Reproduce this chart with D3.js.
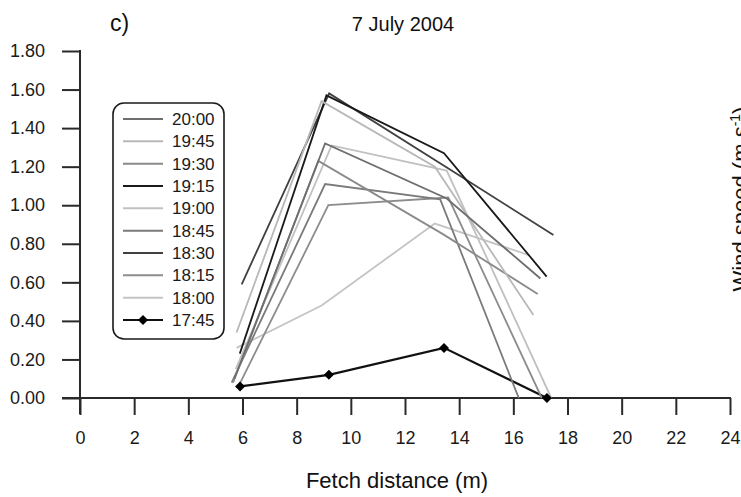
<!DOCTYPE html>
<html><head><meta charset="utf-8">
<script src="https://cdn.jsdelivr.net/npm/d3@7"></script>
<style>
html,body{margin:0;padding:0;background:#fff;}
svg{display:block;font-family:"Liberation Sans",Arial,sans-serif;}
</style></head>
<body><svg id="c" width="741" height="497"></svg>
<script>
// ---- data ----
const times = ["20:00","19:45","19:30","19:15","19:00","18:45","18:30","18:15","18:00","17:45"];
const fetchDistances = [
  [5.70, 9.05, 13.54, 17.00],
  [5.78, 8.92, 13.10, 16.74],
  [5.65, 8.80, 13.40, 16.90],
  [5.90, 9.10, 13.44, 17.23],
  [5.75, 9.29, 13.54, 17.40],
  [5.60, 9.05, 13.30, 16.20],
  [5.97, 9.20, 13.50, 17.48],
  [5.85, 9.17, 13.60, 17.05],
  [5.78, 8.92, 13.10, 16.60],
  [5.91, 9.19, 13.44, 17.24]
];
const windSpeeds = [
  [0.10, 1.32, 1.035, 0.62],
  [0.34, 1.54, 1.20, 0.43],
  [0.08, 1.23, 0.85, 0.54],
  [0.23, 1.57, 1.27, 0.63],
  [0.15, 1.31, 1.18, 0.00],
  [0.08, 1.11, 1.03, 0.00],
  [0.59, 1.58, 1.20, 0.845],
  [0.06, 1.00, 1.04, 0.00],
  [0.26, 0.48, 0.905, 0.74],
  [0.06, 0.12, 0.26, 0.00]
];
const seriesColors = ["#6e6e6e","#b8b8b8","#8a8a8a","#1a1a1a","#c0c0c0","#7a7a7a","#404040","#8c8c8c","#c4c4c4","#111111"];
const xTicks = [0,2,4,6,8,10,12,14,16,18,20,22,24];
const yTicks = [0,0.2,0.4,0.6,0.8,1.0,1.2,1.4,1.6,1.8];
const markerSeries = "17:45";

// ---- layout ----
const svg = d3.select("#c");
const x = d3.scaleLinear().domain([0,24]).range([80,730]);
const y = d3.scaleLinear().domain([0,1.8]).range([398,51]);
const axisColor = "#2a2a2a";

// y axis
const gy = svg.append("g").attr("transform","translate(80,0)")
  .call(d3.axisLeft(y).tickValues(yTicks).tickFormat(d3.format(".2f")).tickSize(18).tickSizeOuter(0).tickPadding(17));
gy.select(".domain").remove();
gy.selectAll(".tick line").attr("stroke",axisColor).attr("stroke-width",2);
gy.selectAll(".tick text").attr("font-size",18).attr("fill","#1a1a1a").attr("font-family","Liberation Sans, Arial, sans-serif");
svg.append("line").attr("x1",x(0)).attr("x2",x(0)).attr("y1",y(1.8)-1).attr("y2",y(0)+16)
  .attr("stroke",axisColor).attr("stroke-width",2);

// x axis
const gx = svg.append("g").attr("transform","translate(0,398)")
  .call(d3.axisBottom(x).tickValues(xTicks).tickFormat(d3.format("d")).tickSize(17).tickSizeOuter(0).tickPadding(16));
gx.select(".domain").remove();
gx.selectAll(".tick line").attr("stroke",axisColor).attr("stroke-width",2);
gx.selectAll(".tick text").attr("font-size",18).attr("fill","#1a1a1a").attr("font-family","Liberation Sans, Arial, sans-serif");
svg.append("line").attr("x1",x(0)-18).attr("x2",x(24)+1).attr("y1",y(0)).attr("y2",y(0))
  .attr("stroke",axisColor).attr("stroke-width",2);

// lines
const line = d3.line().x(d=>x(d[0])).y(d=>y(d[1]));
const series = times.map((t,i)=>({t, color:seriesColors[i], pts:fetchDistances[i].map((fx,j)=>[fx, windSpeeds[i][j]])}));
const drawOrder = series.slice().reverse();
svg.append("g").selectAll("path").data(drawOrder).join("path")
  .attr("d",d=>line(d.pts)).attr("fill","none").attr("stroke",d=>d.color)
  .attr("stroke-width",d=>d.t===markerSeries?2.2:1.8).attr("stroke-linejoin","miter");

const diamond = d3.symbol(d3.symbolSquare, 50);
const ms = series.find(s=>s.t===markerSeries);
svg.append("g").selectAll("path").data(ms.pts).join("path")
  .attr("d",diamond).attr("fill","#000")
  .attr("transform",d=>`translate(${x(d[0])},${y(d[1])}) rotate(45)`);

// legend
const lg = svg.append("g");
lg.append("rect").attr("x",113).attr("y",103).attr("width",111).attr("height",236)
  .attr("rx",11).attr("fill","#fff").attr("stroke","#1a1a1a").attr("stroke-width",1.6);
const rowY = d3.scalePoint().domain(times).range([119,320]);
const rows = lg.selectAll("g.row").data(series).join("g").attr("class","row")
  .attr("transform",d=>`translate(0,${rowY(d.t)})`);
rows.append("line").attr("x1",123).attr("x2",163).attr("stroke",d=>d.color)
  .attr("stroke-width",d=>d.t===markerSeries?2.2:2);
rows.filter(d=>d.t===markerSeries).append("path").attr("d",diamond).attr("fill","#000")
  .attr("transform","translate(143,0) rotate(45)");
rows.append("text").attr("x",172).attr("dy","0.36em").attr("font-size",17).attr("fill","#1a1a1a").text(d=>d.t);

// titles
svg.append("text").attr("x",110).attr("y",31).attr("font-size",23).attr("fill","#111").text("c)");
svg.append("text").attr("x",403).attr("y",31).attr("text-anchor","middle").attr("font-size",20).attr("fill","#111").text("7 July 2004");
svg.append("text").attr("x",397).attr("y",488).attr("text-anchor","middle").attr("font-size",22).attr("fill","#111").text("Fetch distance (m)");
const yl = svg.append("text").attr("transform","translate(748,199) rotate(-90)").attr("text-anchor","middle")
  .attr("font-size",22).attr("fill","#111");
yl.append("tspan").text("Wind speed (m s");
yl.append("tspan").attr("font-size",14).attr("dy","-8").text("-1");
yl.append("tspan").attr("dy","8").text(")");
</script></body></html>
